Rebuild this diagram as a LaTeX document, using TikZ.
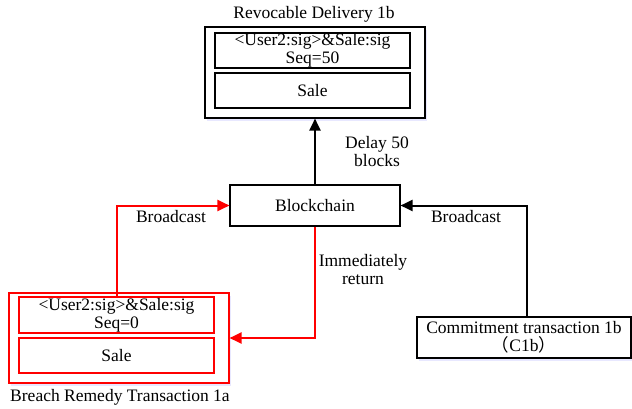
\documentclass[tikz,border=0pt]{standalone}
\usepackage{fontspec}
\setmainfont{Liberation Serif}
\newfontfamily\cjk{Noto Sans CJK SC}
\usetikzlibrary{arrows.meta,shadows}

\begin{document}
\begin{tikzpicture}[x=1pt, y=-1pt,
    every node/.style={font=\fontsize{17.5}{18}\selectfont, inner sep=0pt},
    box/.style={draw, line width=1.1pt, fill=white},
    outerbox/.style={box, drop shadow={shadow xshift=1.5pt, shadow yshift=-2.5pt, fill=blue!15, opacity=0.6}},
    link/.style={line width=2pt, -{Triangle[length=12pt, width=11pt]}},
    lbl/.style={align=center}]
    \useasboundingbox (0,0) rectangle (632,408);

    % top: revocable delivery
    \node[lbl] (titleRD) at (314,14) {Revocable Delivery 1b};
    \node[outerbox, minimum width=220, minimum height=91] (delivery) at (315,72.5) {};
    \node[box, minimum width=195, minimum height=35, lbl] (delivSig) at (312.5,50.5) {<User2:sig>\&Sale:sig\\Seq=50};
    \node[box, minimum width=195, minimum height=35] (delivSale) at (312.5,90.5) {Sale};

    % middle: blockchain
    \node[box, minimum width=170, minimum height=41] (chain) at (315,205.5) {Blockchain};

    % bottom left: breach remedy
    \begin{scope}[red]
        \node[outerbox, minimum width=220, minimum height=90] (breach) at (119,338) {};
        \node[box, minimum width=195, minimum height=36, lbl, text=black] (breachSig) at (116.5,315) {<User2:sig>\&Sale:sig\\Seq=0};
        \node[box, minimum width=195, minimum height=35, text=black] (breachSale) at (116.5,355.5) {Sale};
    \end{scope}
    \node[lbl] (titleBR) at (120,397) {Breach Remedy Transaction 1a};

    % bottom right: commitment
    \node[outerbox, minimum width=214, minimum height=41, lbl] (commit) at (524,337.5) {Commitment transaction 1b\\{\cjk （}C1b{\cjk ）}};

    % connectors
    \draw[link] (chain.north) -- (delivery.south);
    \draw[link, red] (breachSig.north) |- (chain.west);
    \draw[link, red] (chain.south) |- (breach.east);
    \draw[link] (commit.north -| 527,0) |- (chain.east);

    % labels
    \node[lbl] (delayLbl) at (377,151.5) {Delay 50\\blocks};
    \node[lbl] (bcLeft) at (171,217) {Broadcast};
    \node[lbl] (retLbl) at (363,270) {Immediately\\return};
    \node[lbl] (bcRight) at (466,217) {Broadcast};
\end{tikzpicture}
\end{document}
